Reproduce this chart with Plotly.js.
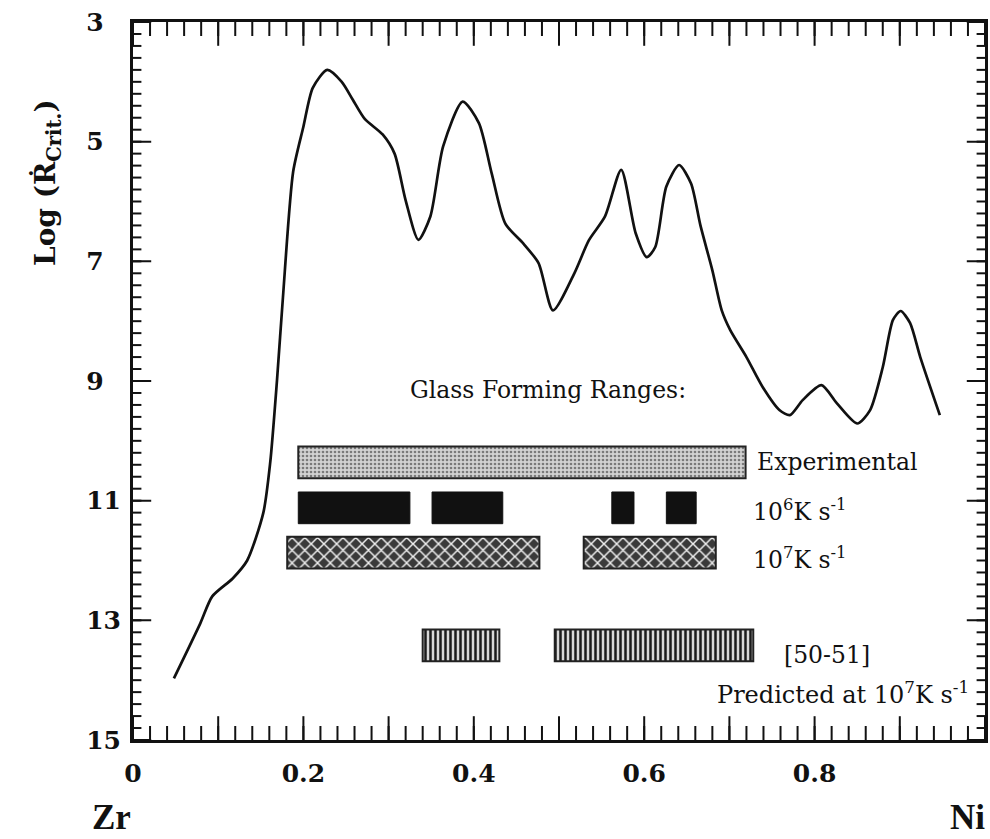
<!DOCTYPE html>
<html>
<head>
<meta charset="utf-8">
<script src="https://cdn.plot.ly/plotly-3.0.1.min.js"></script>
<style>html,body{margin:0;padding:0;background:#fff;}</style>
</head>
<body>
<div id="chart" style="width:990px;height:839px;"></div>
<script>
// Critical cooling rate curve (x = Ni fraction, y = Log R_crit)
const curveX = [0.048,0.079,0.093,0.117,0.134,0.153,0.161,0.169,0.176,0.188,0.200,0.211,0.228,0.245,0.258,0.272,0.293,0.307,0.320,0.335,0.349,0.364,0.387,0.406,0.421,0.437,0.458,0.476,0.493,0.518,0.535,0.554,0.573,0.590,0.603,0.613,0.626,0.641,0.655,0.666,0.680,0.691,0.701,0.720,0.739,0.759,0.771,0.786,0.808,0.826,0.850,0.865,0.880,0.892,0.901,0.912,0.924,0.947];
const curveY = [13.97,13.05,12.60,12.30,12.00,11.20,10.37,8.99,7.60,5.50,4.75,4.10,3.80,4.00,4.30,4.62,4.88,5.20,5.98,6.64,6.25,5.08,4.33,4.69,5.53,6.37,6.70,7.03,7.82,7.20,6.65,6.25,5.47,6.53,6.93,6.76,5.75,5.39,5.70,6.40,7.15,7.82,8.15,8.60,9.10,9.49,9.57,9.32,9.07,9.37,9.71,9.49,8.77,7.98,7.83,8.03,8.60,9.57];

// Glass forming ranges (start / end compositions) and their row positions
const expStart = [0.194];
const expEnd   = [0.719];
const r6Start  = [0.194, 0.351, 0.562, 0.626];
const r6End    = [0.325, 0.434, 0.588, 0.661];
const r7Start  = [0.181, 0.529];
const r7End    = [0.477, 0.684];
const predStart = [0.340, 0.495];
const predEnd   = [0.430, 0.728];
const rowY = {exp: 10.36, r6: 11.12, r7: 11.87, pred: 13.42};

// Axis ranges, tick labels and tick positions
const xRange = [0, 1];
const yRange = [15, 3];
const xTickVals = [0,0.2,0.4,0.6,0.8,1];
const xTickText = ['0','0.2','0.4','0.6','0.8','1'];
const xTenthTicks = [0,0.1,0.2,0.3,0.4,0.5,0.6,0.7,0.8,0.9,1];
const yTickVals = [3,5,7,9,11,13,15];
const yTickText = ['3\u2007','5\u2007','7\u2007','9\u2007','11','13','15'];
const xMinorTicks = []; for (let i = 0; i <= 50; i++) xMinorTicks.push(+(i * 0.02).toFixed(2));
const yMinorTicks = []; for (let i = 0; i <= 60; i++) yMinorTicks.push(+(3 + i * 0.2).toFixed(1));

function lens(s, e){ return s.map((v,i)=>e[i]-v); }
function rows(s, y){ return s.map(()=>y); }
// inside tick marks: line markers centred on the frame, clipped to the plot area
function tickTrace(xs, ys, symbol, len){
  return {type:'scatter', mode:'markers', x:xs, y:ys, cliponaxis:true, hoverinfo:'skip',
    marker:{symbol:symbol, size:2*len, color:'#111', line:{color:'#111', width:2}}};
}

const barW = 0.53;
const traces = [
  {type:'bar', orientation:'h', base:expStart, x:lens(expStart,expEnd), y:rows(expStart,rowY.exp), width:barW,
   marker:{color:'#c8c8c8', line:{color:'#222', width:2},
     pattern:{shape:'.', fgcolor:'#7a7a7a', bgcolor:'#d2d2d2', size:4, solidity:0.35}}},
  {type:'bar', orientation:'h', base:r6Start, x:lens(r6Start,r6End), y:rows(r6Start,rowY.r6), width:barW,
   marker:{color:'#111', line:{color:'#111', width:1}}},
  {type:'bar', orientation:'h', base:r7Start, x:lens(r7Start,r7End), y:rows(r7Start,rowY.r7), width:barW,
   marker:{color:'#444', line:{color:'#222', width:2},
     pattern:{shape:'x', fgcolor:'#f0f0f0', bgcolor:'#3a3a3a', size:9, solidity:0.3}}},
  {type:'bar', orientation:'h', base:predStart, x:lens(predStart,predEnd), y:rows(predStart,rowY.pred), width:barW,
   marker:{color:'#888', line:{color:'#222', width:2},
     pattern:{shape:'|', fgcolor:'#1a1a1a', bgcolor:'#d8d8d8', size:5, solidity:0.5}}},
  {type:'scatter', mode:'lines', x:curveX, y:curveY,
   line:{color:'#111', width:2.7, shape:'spline', smoothing:0.7}},
  // frame ticks: bottom, top, left, right
  tickTrace(xMinorTicks, rows(xMinorTicks, yRange[0]), 'line-ns', 10),
  tickTrace(xTenthTicks, rows(xTenthTicks, yRange[0]), 'line-ns', 17),
  tickTrace(xMinorTicks, rows(xMinorTicks, yRange[1]), 'line-ns', 10),
  tickTrace(xTenthTicks, rows(xTenthTicks, yRange[1]), 'line-ns', 17),
  tickTrace(rows(yMinorTicks, xRange[0]), yMinorTicks, 'line-ew', 6),
  tickTrace(rows(yTickVals, xRange[0]), yTickVals, 'line-ew', 13),
  tickTrace(rows(yMinorTicks, xRange[1]), yMinorTicks, 'line-ew', 6),
  tickTrace(rows(yTickVals, xRange[1]), yTickVals, 'line-ew', 13)
];

const tickFont = {family:'DejaVu Serif', size:25, color:'#111', weight:'bold'};
const txtFont = {family:'DejaVu Serif', size:23.5, color:'#111'};
const clear = 'rgba(0,0,0,0)';

const layout = {
  width:990, height:839,
  margin:{l:133, r:5, t:22, b:99},
  paper_bgcolor:'#fff', plot_bgcolor:'#fff',
  showlegend:false,
  barmode:'overlay',
  xaxis:{range:xRange, showgrid:false, zeroline:false, showline:true, linecolor:'#111', linewidth:3, mirror:true,
    tickmode:'array', tickvals:xTickVals, ticktext:xTickText, ticks:'outside', ticklen:9, tickcolor:clear,
    tickfont:tickFont, fixedrange:true},
  yaxis:{range:yRange, showgrid:false, zeroline:false, showline:true, linecolor:'#111', linewidth:3, mirror:true,
    tickmode:'array', tickvals:yTickVals, ticktext:yTickText, ticks:'outside', ticklen:4, tickcolor:clear,
    tickfont:tickFont, fixedrange:true},
  annotations:[
    {xref:'paper', yref:'paper', x:-0.101, y:0.777, xanchor:'center', yanchor:'middle', textangle:-90, showarrow:false,
     text:'Log (Ṙ<sub>Crit.</sub>)', font:{family:'DejaVu Serif', size:28, color:'#111', weight:'bold'}},
    {xref:'paper', yref:'paper', x:-0.025, y:-0.108, xanchor:'center', yanchor:'middle', showarrow:false,
     text:'Zr', font:{family:'Liberation Serif', size:35, color:'#111', weight:'bold'}},
    {xref:'paper', yref:'paper', x:0.979, y:-0.108, xanchor:'center', yanchor:'middle', showarrow:false,
     text:'Ni', font:{family:'Liberation Serif', size:35, color:'#111', weight:'bold'}},
    {xref:'x', yref:'y', x:0.487, y:9.15, xanchor:'center', yanchor:'middle', showarrow:false,
     text:'Glass Forming Ranges:', font:txtFont},
    {xref:'x', yref:'y', x:0.730, y:rowY.exp, xanchor:'left', yanchor:'middle', showarrow:false,
     text:'Experimental', font:txtFont},
    {xref:'x', yref:'y', x:0.725, y:rowY.r6+0.05, xanchor:'left', yanchor:'middle', showarrow:false,
     text:'10<sup>6</sup>K s<sup>-1</sup>', font:txtFont},
    {xref:'x', yref:'y', x:0.725, y:rowY.r7+0.1, xanchor:'left', yanchor:'middle', showarrow:false,
     text:'10<sup>7</sup>K s<sup>-1</sup>', font:txtFont},
    {xref:'x', yref:'y', x:0.762, y:13.58, xanchor:'left', yanchor:'middle', showarrow:false,
     text:'[50-51]', font:txtFont},
    {xref:'x', yref:'y', x:0.683, y:14.22, xanchor:'left', yanchor:'middle', showarrow:false,
     text:'Predicted at 10<sup>7</sup>K s<sup>-1</sup>', font:{family:'DejaVu Serif', size:24, color:'#111'}}
  ]
};

Plotly.newPlot('chart', traces, layout, {staticPlot:true, displayModeBar:false});
</script>
</body>
</html>
